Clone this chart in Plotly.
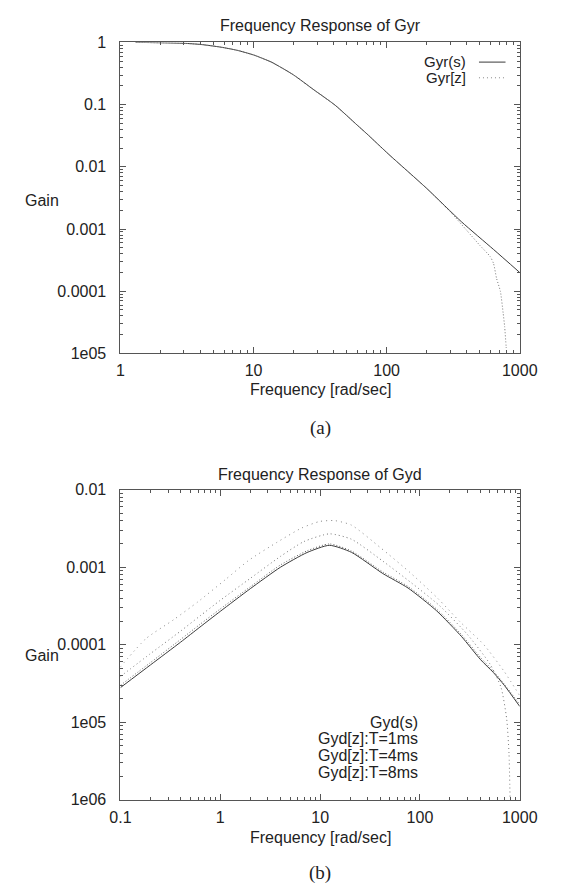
import plotly.graph_objects as go

# ---------------- data ----------------
gyr_s_freq = [1.3, 1.5, 2, 3, 4, 5.7, 7.5, 10, 13.7, 20, 28, 41, 60, 71, 104, 200, 366, 635, 1000]
gyr_s_gain = [1.0, 1.0, 0.99, 0.97, 0.93, 0.84, 0.75, 0.63, 0.48, 0.30, 0.177, 0.098, 0.047, 0.034,
              0.0158, 0.0045, 0.0013, 0.00047, 0.0002]

gyr_z_freq = [1.3, 1.5, 2, 3, 4, 5.7, 7.5, 10, 13.7, 20, 28, 41, 60, 71, 104, 200, 300, 400, 500,
              600, 635, 670, 715, 750, 770, 790, 805]
gyr_z_gain = [1.0, 1.0, 0.99, 0.97, 0.93, 0.84, 0.75, 0.63, 0.48, 0.30, 0.177, 0.098, 0.047, 0.034,
              0.0158, 0.0045, 0.0019, 0.00095, 0.00055, 0.00036, 0.00028, 0.00016, 0.0001, 0.000045,
              0.000027, 0.000013, 0.000008]

gyd_freq = [0.1, 0.2, 0.4, 0.625, 1, 2, 4, 7.4, 12.4, 20.6, 42.5, 76, 147, 262, 406, 543, 700, 1000]
gyd_s_gain = [2.8e-5, 5.5e-5, 1.08e-4, 1.69e-4, 2.7e-4, 5.3e-4, 1.0e-3, 1.55e-3, 1.92e-3, 1.56e-3,
              8.3e-4, 5.4e-4, 2.74e-4, 1.27e-4, 6.4e-5, 4.4e-5, 3.0e-5, 1.6e-5]
gyd_t1_gain = [3.0e-5, 5.9e-5, 1.17e-4, 1.83e-4, 2.9e-4, 5.6e-4, 1.07e-3, 1.63e-3, 2.0e-3, 1.62e-3,
               8.7e-4, 5.65e-4, 2.88e-4, 1.34e-4, 6.8e-5, 4.6e-5, 3.1e-5, 1.7e-5]

gyd_t4_freq = [0.1, 0.2, 0.4, 0.625, 1, 2, 4, 6.9, 12.4, 20.6, 42.5, 82, 157, 300, 505, 650, 740, 780, 800]
gyd_t4_gain = [3.9e-5, 7.7e-5, 1.5e-4, 2.35e-4, 3.75e-4, 7.2e-4, 1.38e-3, 2.15e-3, 2.7e-3, 2.3e-3,
               1.2e-3, 6.3e-4, 3.2e-4, 1.35e-4, 5.6e-5, 2.8e-5, 1.1e-5, 4e-6, 1e-6]

gyd_t8_freq = [0.1, 0.18, 0.34, 0.6, 1.12, 1.93, 3.7, 6.5, 9.9, 14, 20.6, 40, 80, 150, 250, 437, 700, 1000]
gyd_t8_gain = [5.2e-5, 1.2e-4, 2.1e-4, 3.6e-4, 6.9e-4, 1.23e-3, 2.1e-3, 3.2e-3, 3.9e-3, 4.0e-3, 3.5e-3,
               1.8e-3, 8.5e-4, 4.0e-4, 2.0e-4, 1.0e-4, 4.5e-5, 2.2e-5]

top_y_vals = [1, 0.1, 0.01, 0.001, 0.0001, 0.00001]
top_y_text = ["1", "0.1", "0.01", "0.001", "0.0001", "1e05"]
top_x_vals = [1, 10, 100, 1000]
top_x_text = ["1", "10", "100", "1000"]
bot_y_vals = [0.01, 0.001, 0.0001, 0.00001, 0.000001]
bot_y_text = ["0.01", "0.001", "0.0001", "1e05", "1e06"]
bot_x_vals = [0.1, 1, 10, 100, 1000]
bot_x_text = ["0.1", "1", "10", "100", "1000"]


def minor_ticks(lo, hi):
    out = []
    for e in range(lo, hi):
        for m in range(2, 10):
            out.append(m * 10.0 ** e)
    return out


# ---------------- layout geometry ----------------
W, H = 562, 890
def px(x): return x / W
def py(y): return 1 - y / H

X0, X1 = 107, 528
T_TOP, T_BOT = 27, 344
B_TOP, B_BOT = 483, 799

FONT = "Liberation Sans, Arial, Helvetica, sans-serif"
LINE_COL = "#3a3a3a"
AX_COL = "#555555"

fig = go.Figure()

def add_line(x, y, ax, ay, color, dash=None):
    fig.add_trace(go.Scatter(x=x, y=y, mode="lines", xaxis=ax, yaxis=ay,
                             line=dict(color=color, width=1, dash=dash, shape="spline", smoothing=0.6),
                             showlegend=False, hoverinfo="skip"))

add_line(gyr_s_freq, gyr_s_gain, "x", "y", LINE_COL)
add_line(gyr_z_freq, gyr_z_gain, "x", "y", "#777777", "1px,2px")
add_line(gyd_freq, gyd_s_gain, "x2", "y2", LINE_COL)
add_line(gyd_freq, gyd_t1_gain, "x2", "y2", "#666666", "1px,2px")
add_line(gyd_t4_freq, gyd_t4_gain, "x2", "y2", "#777777", "1px,3px")
add_line(gyd_t8_freq, gyd_t8_gain, "x2", "y2", "#888888", "1px,4px")

major = dict(type="log", showgrid=False, zeroline=False, showline=True, linecolor=AX_COL,
             linewidth=1, mirror="allticks", ticks="inside", ticklen=6, tickcolor=AX_COL,
             tickfont=dict(family=FONT, size=16, color="#222222"))

def mnr(lo, hi):
    return dict(tickmode="array", tickvals=minor_ticks(lo, hi), ticks="inside", ticklen=3,
                tickcolor=AX_COL, showgrid=False)

fig.update_layout(
    width=W, height=H, margin=dict(l=0, r=0, t=0, b=0),
    paper_bgcolor="white", plot_bgcolor="white", showlegend=False,
    xaxis=dict(major, domain=[px(X0), px(X1)], range=[0, 3], anchor="y",
               tickvals=top_x_vals, ticktext=top_x_text, ticklabelstandoff=2, minor=mnr(0, 3)),
    yaxis=dict(major, domain=[py(T_BOT), py(T_TOP)], range=[-5, 0], anchor="x",
               tickvals=top_y_vals, ticktext=top_y_text, ticklabelstandoff=10, minor=mnr(-5, 0)),
    xaxis2=dict(major, domain=[px(X0), px(X1)], range=[-1, 3], anchor="y2",
                tickvals=bot_x_vals, ticktext=bot_x_text, ticklabelstandoff=3, minor=mnr(-1, 3)),
    yaxis2=dict(major, domain=[py(B_BOT), py(B_TOP)], range=[-6, -2], anchor="x2",
                tickvals=bot_y_vals, ticktext=bot_y_text, ticklabelstandoff=10, minor=mnr(-6, -2)),
)

ann = []
def text(x, y, s, size=16, xanchor="center", family=FONT):
    ann.append(dict(x=px(x), y=py(y), xref="paper", yref="paper", text=s, showarrow=False,
                    xanchor=xanchor, yanchor="middle", font=dict(family=family, size=size, color="#222222")))

cx = (X0 + X1) / 2
text(cx, 10, "Frequency Response of Gyr")
text(cx, 381, "Frequency [rad/sec]")
text(24, 188, "Gain")
text(cx, 420, "(a)", size=19, family="Liberation Serif, Times New Roman, serif")

text(cx, 467, "Frequency Response of Gyd")
text(cx, 838, "Frequency [rad/sec]")
text(24, 652, "Gain")
text(cx, 874, "(b)", size=19, family="Liberation Serif, Times New Roman, serif")

# legends (gnuplot style: text right-aligned, sample to the right)
text(473, 46, "Gyr(s)", size=15, xanchor="right")
text(473, 63, "Gyr[z]", size=15, xanchor="right")
text(423, 720, "Gyd(s)", xanchor="right")
text(423, 737, "Gyd[z]:T=1ms", xanchor="right")
text(423, 754, "Gyd[z]:T=4ms", xanchor="right")
text(423, 771, "Gyd[z]:T=8ms", xanchor="right")

fig.update_layout(annotations=ann)

shapes = [
    dict(type="line", xref="paper", yref="paper", x0=px(485), x1=px(513), y0=py(47), y1=py(47),
         line=dict(color=LINE_COL, width=1)),
    dict(type="line", xref="paper", yref="paper", x0=px(485), x1=px(513), y0=py(63), y1=py(63),
         line=dict(color="#888888", width=1, dash="1px,3px")),
]
fig.update_layout(shapes=shapes)

fig.write_html("out.html")
